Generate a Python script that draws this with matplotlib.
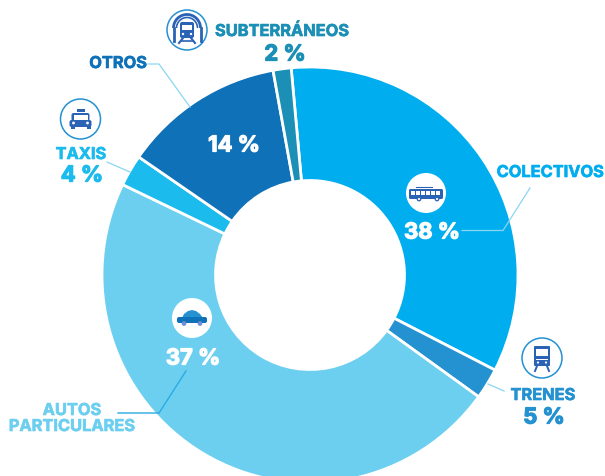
# donut of trips by transport mode, with little icons and leader lines
import matplotlib
matplotlib.use('Agg')
import matplotlib.pyplot as plt
import matplotlib.patches as patch
import matplotlib.patheffects as pe

W = 605
H = 476

#----------data------------------------
modes = ['COLECTIVOS', 'TRENES', 'AUTOS\nPARTICULARES', 'TAXIS', 'OTROS', 'SUBTERRÁNEOS']
# the slices as drawn are not proportional to the printed labels, so keep both
drawnShares = [34.0, 2.4, 47.2, 2.45, 12.55, 1.4]
labelPct = [38, 5, 37, 4, 14, 2]
colors = ['#00AEEF', '#2491D1', '#6DCFF0', '#1CBBED', '#0F71B8', '#1B8FB5']

plt.rcParams['font.family'] = ['Inter', 'DejaVu Sans']

fig = plt.figure(figsize=(W / 100, H / 100), dpi=100)
ax = fig.add_axes([0, 0, 1, 1])


def Y(py):
    '''y in picture pixels (from top) to axes y'''
    return H - py


ax.pie(drawnShares, colors=colors, startangle=95.2, counterclock=False,
       center=(310, Y(275)), radius=208,
       wedgeprops={'width': 113.5, 'edgecolor': 'white', 'linewidth': 2})
ax.set_xlim(0, W)
ax.set_ylim(0, H)
ax.set_aspect('equal')
ax.axis('off')


#----------text helpers------------------------
def label(x, y, s, color, size=11.8, ha='center', stroke=0.45):
    t = ax.text(x, Y(y + 1.5), s, color=color, fontsize=size, fontweight='bold',
                ha=ha, va='center', zorder=6)
    t.set_path_effects([pe.withStroke(linewidth=stroke, foreground=color)])


def pct(x, y, val, color):
    label(x, y, '%d %%' % val, color, size=15.8, stroke=0.9)


def leader(pts, color='#8AD6F3', lw=0.9, z=5):
    ax.plot([p[0] for p in pts], [Y(p[1]) for p in pts], color=color, lw=lw,
            solid_joinstyle='miter', zorder=z)


#----------icons------------------------
def box(cx, cy, x, y, w, h, color, round=0.0):
    '''rect with top left at offset x,y from icon centre'''
    style = 'round,pad=0,rounding_size=%f' % round if round else 'square,pad=0'
    ax.add_patch(patch.FancyBboxPatch((cx + x, Y(cy + y + h)), w, h, boxstyle=style,
                                      fc=color, ec='none', zorder=7))


def dot(cx, cy, x, y, r, color):
    ax.add_patch(plt.Circle((cx + x, Y(cy + y)), r, fc=color, ec='none', zorder=8))


def ring(cx, cy, edge=None):
    ax.add_patch(plt.Circle((cx, Y(cy)), 20, fc='white', ec=edge or 'none', lw=1.1, zorder=6))


def subteIcon(cx, cy):
    blue = '#2A62B5'
    ring(cx, cy, '#2491D1')
    ax.add_patch(patch.Arc((cx, Y(cy - 2)), 27, 27, theta1=0, theta2=180, lw=2, ec=blue, zorder=7))
    ax.add_patch(patch.Arc((cx, Y(cy - 2)), 21, 21, theta1=0, theta2=180, lw=1.2, ec=blue, zorder=7))
    leader([(cx - 13.5, cy - 2), (cx - 13.5, cy + 11)], blue, 2, 7)
    leader([(cx + 13.5, cy - 2), (cx + 13.5, cy + 11)], blue, 2, 7)
    box(cx, cy, -7, -8, 14, 16, blue, 2)
    box(cx, cy, -5, -5, 10, 5, 'white')
    dot(cx, cy, -4, 4, 1.2, 'white')
    dot(cx, cy, 4, 4, 1.2, 'white')
    leader([(cx - 4, cy + 8), (cx - 8, cy + 13)], blue, 1.5, 7)
    leader([(cx + 4, cy + 8), (cx + 8, cy + 13)], blue, 1.5, 7)
    leader([(cx - 6, cy + 11), (cx + 6, cy + 11)], blue, 1.2, 7)


def taxiIcon(cx, cy):
    blue = '#2A62B5'
    ring(cx, cy, '#2491D1')
    box(cx, cy, -4, -10, 8, 3, blue)
    box(cx, cy, -9, -6, 18, 8, blue, 2)
    box(cx, cy, -7, -4, 14, 5, 'white')
    box(cx, cy, -11, 1, 22, 7, blue, 2)
    box(cx, cy, -10, 7, 4, 3, blue)
    box(cx, cy, 6, 7, 4, 3, blue)
    dot(cx, cy, -7, 4, 1.4, 'white')
    dot(cx, cy, 7, 4, 1.4, 'white')


def trenIcon(cx, cy):
    blue = '#2A62B5'
    ring(cx, cy, '#2491D1')
    box(cx, cy, -8, -12, 16, 20, blue, 1)
    box(cx, cy, -6, -9, 12, 7, 'white')
    box(cx, cy, -6, 1, 12, 1, 'white')
    dot(cx, cy, -4, 4.5, 1.1, 'white')
    dot(cx, cy, 4, 4.5, 1.1, 'white')
    leader([(cx - 5, cy + 8), (cx - 7, cy + 13)], blue, 1.4, 7)
    leader([(cx + 5, cy + 8), (cx + 7, cy + 13)], blue, 1.4, 7)


def busIcon(cx, cy):
    blue = '#2A62B5'
    ring(cx, cy)
    box(cx, cy, -17, -4, 34, 10, blue, 1.5)
    leader([(cx - 10, cy - 6), (cx + 6, cy - 6)], blue, 0.8, 7)
    for x in [-15, -10, -5, 0, 5, 10]:
        box(cx, cy, x, -2, 4, 3.5, 'white')
    dot(cx, cy, -7, 6, 2.4, blue)
    dot(cx, cy, 11, 6, 2.4, blue)
    dot(cx, cy, -7, 6, 1.1, 'white')
    dot(cx, cy, 11, 6, 1.1, 'white')


def autoIcon(cx, cy):
    blue = '#0F71B8'
    ring(cx, cy)
    cabin = [(-10, 0), (-8, -4), (-4, -7), (0, -8), (4, -7), (8, -4), (11, 0)]
    ax.add_patch(plt.Polygon([(cx + p[0], Y(cy + p[1])) for p in cabin], fc='#2491D1', ec='none', zorder=7))
    box(cx, cy, -15, -1, 30, 6, blue, 2)
    dot(cx, cy, -8, 5.5, 2.4, '#6F8FD8')
    dot(cx, cy, 8, 5.5, 2.4, '#6F8FD8')


subteIcon(187, 30)
taxiIcon(80.5, 119)
trenIcon(542, 358)
busIcon(426, 193)
autoIcon(192, 318)

#----------leader lines------------------------
leader([(148, 64), (159, 64), (190, 107)])
leader([(107, 162), (130, 172)])
leader([(530, 188), (503, 230.5), (462, 230.5)])
leader([(488, 384), (504, 391)])
leader([(118, 413), (159, 413), (186, 371)], '#29ABE2', 1.0)

#----------labels------------------------
label(215, 30, modes[5], colors[5], ha='left')
pct(285, 53, labelPct[5], colors[5])
label(147, 62, modes[4], colors[4], ha='right')
pct(234, 144, labelPct[4], 'white')
label(81, 153, modes[3], colors[3])
pct(82, 174, labelPct[3], colors[3])
label(604, 171, modes[0], colors[0], ha='right')
pct(432, 231, labelPct[0], 'white')
label(543, 394, modes[1], colors[1])
pct(544, 416, labelPct[1], colors[1])
pct(193, 357, labelPct[2], 'white')
auto1, auto2 = modes[2].split('\n')
label(72, 409, auto1, colors[2])
label(72, 425, auto2, colors[2])

fig.savefig('out.png', dpi=100, facecolor='white')
